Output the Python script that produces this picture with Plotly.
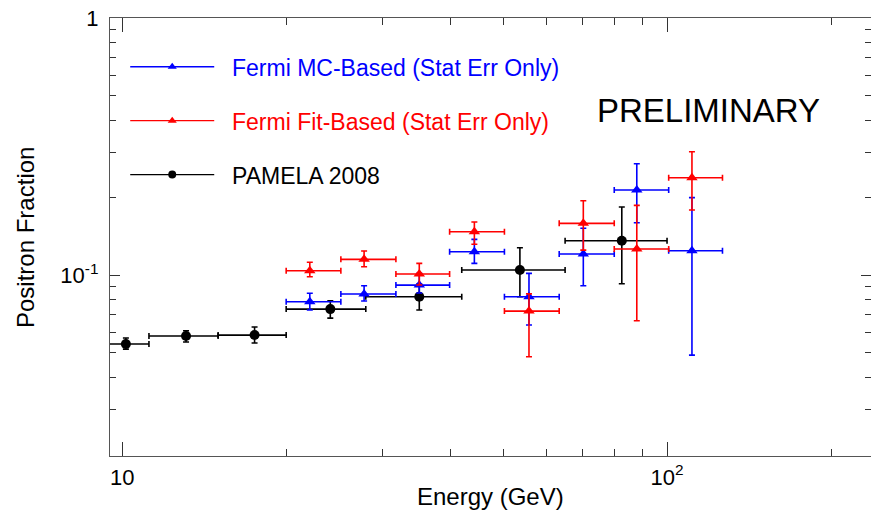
import plotly.graph_objects as go
import math

# ---------------- data ----------------
fermi_E = [22.1, 27.8, 35.1, 44.3, 55.8, 70.2, 88.0, 111.1]
fermi_lo = [20.0, 25.2, 31.8, 39.9, 50.3, 63.4, 80.0, 100.7]
fermi_hi = [25.2, 31.8, 39.9, 50.3, 63.4, 80.0, 100.7, 126.4]

mc_frac = [0.0787, 0.0844, 0.0914, 0.1232, 0.0823, 0.1207, 0.2142, 0.1243]
mc_up = [0.0849, 0.0909, 0.1015, 0.1377, 0.1015, 0.1520, 0.2710, 0.2000]
mc_dn = [0.0731, 0.0792, 0.0851, 0.1110, 0.0639, 0.0909, 0.1598, 0.0488]

fit_frac = [0.1039, 0.1151, 0.1009, 0.1474, 0.0724, 0.1589, 0.1262, 0.2391]
fit_up = [0.1121, 0.1240, 0.1110, 0.1608, 0.0845, 0.1946, 0.1867, 0.3018]
fit_dn = [0.0985, 0.1077, 0.0915, 0.1317, 0.0481, 0.1250, 0.0664, 0.1790]

pam_E = [10.16, 13.1, 17.5, 24.1, 35.1, 53.7, 82.6]
pam_lo = [9.1, 11.2, 15.0, 20.0, 28.0, 42.0, 65.0]
pam_hi = [11.2, 15.0, 20.0, 28.0, 42.0, 65.0, 100.0]
pam_frac = [0.0539, 0.0579, 0.0584, 0.0737, 0.0823, 0.1046, 0.1360]
pam_up = [0.0569, 0.0607, 0.0628, 0.0794, 0.0923, 0.1277, 0.1839]
pam_dn = [0.0515, 0.0549, 0.0544, 0.0680, 0.0731, 0.0823, 0.0925]

x_tickvals = [10, 100]
x_ticktext = ["10", "10<sup>2</sup>"]
x_minor = [20, 30, 40, 50, 60, 70, 80, 90, 200]
y_tickvals = [0.1, 1]
y_ticktext = ["10<sup>-1</sup>", "1"]
y_minor = [0.03, 0.04, 0.05, 0.06, 0.07, 0.08, 0.09,
           0.2, 0.3, 0.4, 0.5, 0.6, 0.7, 0.8, 0.9]

names = ["Fermi MC-Based (Stat Err Only)", "Fermi Fit-Based (Stat Err Only)", "PAMELA 2008"]
colors = ["#0000ff", "#ff0000", "#000000"]

FONT = "Liberation Sans, Arial, Helvetica, sans-serif"

X_RANGE = [math.log10(9.5), 2.3743]
Y_RANGE = [-1.704, 0]


def series(xc, lo, hi, yc, up, dn, color, symbol, size):
    return go.Scatter(
        x=xc, y=yc, mode="markers",
        marker=dict(symbol=symbol, size=size, color=color, line=dict(width=0)),
        error_x=dict(type="data", symmetric=False,
                     array=[h - c for h, c in zip(hi, xc)],
                     arrayminus=[c - l for c, l in zip(xc, lo)],
                     color=color, thickness=1.6, width=3),
        error_y=dict(type="data", symmetric=False,
                     array=[u - c for u, c in zip(up, yc)],
                     arrayminus=[c - d for c, d in zip(yc, dn)],
                     color=color, thickness=1.6, width=3),
        showlegend=False, hoverinfo="x+y",
    )


fig = go.Figure()
fig.add_trace(series(pam_E, pam_lo, pam_hi, pam_frac, pam_up, pam_dn, colors[2], "circle", 10))
fig.add_trace(series(fermi_E, fermi_lo, fermi_hi, mc_frac, mc_up, mc_dn, colors[0], "triangle-up", 10))
fig.add_trace(series(fermi_E, fermi_lo, fermi_hi, fit_frac, fit_up, fit_dn, colors[1], "triangle-up", 10))

# legend-only entries (line + marker like the original key)
legend_symbols = ["triangle-up", "triangle-up", "circle"]
for i, (nm, col, sym) in enumerate(zip(names, colors, legend_symbols)):
    fig.add_trace(go.Scatter(
        x=[None], y=[None], mode="lines+markers",
        name="\u00a0\u00a0<span style='color:%s'>%s</span>" % (col, nm),
        line=dict(color=col, width=1.3),
        marker=dict(symbol=sym, size=8, color=col),
        legendgroup="g%d" % i, showlegend=True,
    ))

axis_common = dict(
    showline=True, linecolor="#555555", linewidth=1.3, mirror="ticks",
    ticks="inside", tickcolor="#333333", tickwidth=1.2,
    showgrid=False, zeroline=False,
    tickfont=dict(family=FONT, size=22, color="#000000"),
)

# PRELIMINARY centre at ~ (708px, 110px)
prelim_x = X_RANGE[0] + (708 - 110) / 761.0 * (X_RANGE[1] - X_RANGE[0])
prelim_y = (456 - 110) / 438.0

fig.update_layout(
    width=871, height=516,
    margin=dict(l=110, r=0, t=18, b=60),
    paper_bgcolor="white", plot_bgcolor="white",
    font=dict(family=FONT, color="#000000"),
    xaxis=dict(type="log", range=X_RANGE,
               tickmode="array", tickvals=x_tickvals, ticktext=x_ticktext,
               ticklen=14, ticklabelstandoff=1,
               minor=dict(ticks="inside", ticklen=7, tickmode="array",
                          tickvals=x_minor, tickcolor="#333333", tickwidth=1.2, showgrid=False),
               **axis_common),
    yaxis=dict(type="log", range=Y_RANGE,
               tickmode="array", tickvals=y_tickvals, ticktext=y_ticktext,
               ticklen=10, ticklabelstandoff=6,
               minor=dict(ticks="inside", ticklen=6, tickmode="array",
                          tickvals=y_minor, tickcolor="#333333", tickwidth=1.2, showgrid=False),
               **axis_common),
    legend=dict(x=0.02, y=0.9377, xanchor="left", yanchor="top",
                bgcolor="rgba(0,0,0,0)", borderwidth=0,
                font=dict(family=FONT, size=23),
                itemwidth=84, traceorder="grouped", tracegroupgap=21),
    annotations=[
        dict(text="PRELIMINARY", x=prelim_x, y=prelim_y, xref="x", yref="paper",
             showarrow=False, font=dict(family=FONT, size=33, color="#000000"),
             xanchor="center", yanchor="middle"),
        dict(text="Energy (GeV)", x=0.5, y=-0.0936, xref="paper", yref="paper",
             showarrow=False, font=dict(family=FONT, size=24, color="#000000"),
             xanchor="center", yanchor="middle"),
        dict(text="Positron Fraction", x=-0.1117, y=0.5, xref="paper", yref="paper",
             showarrow=False, textangle=-90,
             font=dict(family=FONT, size=24, color="#000000"),
             xanchor="center", yanchor="middle"),
    ],
)

fig.write_html("out.html")
